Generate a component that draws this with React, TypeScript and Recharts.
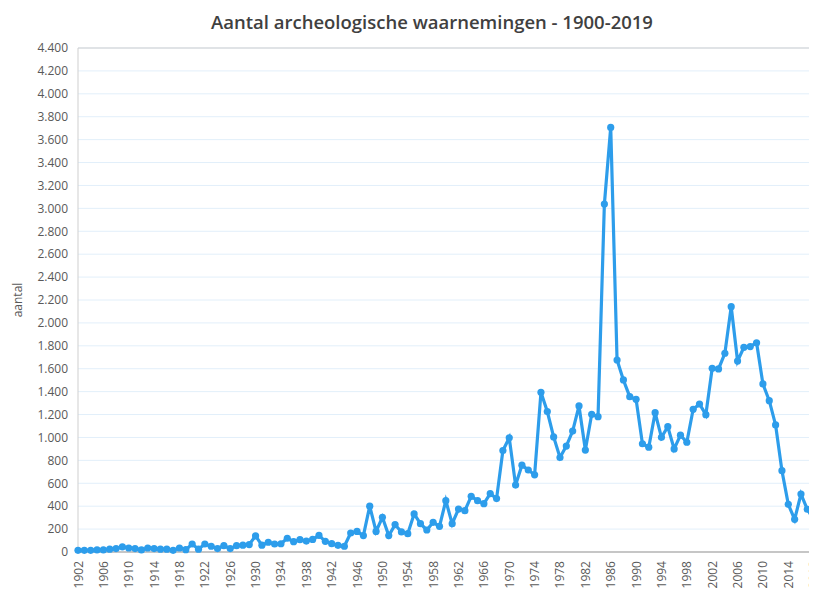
import React from 'react';
import { LineChart, Line, XAxis, YAxis, CartesianGrid, ReferenceLine } from 'recharts';

const startYear = 1902;
const counts: number[] = [
  15, 15, 15, 18, 18, 25, 30, 45, 35, 30, // 1902-1911
  18, 35, 30, 25, 25, 15, 35, 20, 70, 25, // 1912-1921
  70, 50, 30, 55, 30, 55, 60, 65, 140, 60, // 1922-1931
  85, 70, 72, 120, 90, 108, 95, 110, 145, 93, // 1932-1941
  73, 58, 50, 166, 180, 143, 400, 180, 303, 143, // 1942-1951
  239, 175, 160, 332, 247, 192, 259, 224, 448, 247, // 1952-1961
  375, 361, 486, 448, 422, 509, 466, 886, 997, 584, // 1962-1971
  758, 716, 674, 1394, 1226, 1005, 825, 925, 1056, 1275, // 1972-1981
  890, 1202, 1181, 3038, 3707, 1676, 1502, 1356, 1333, 945, // 1982-1991
  915, 1216, 1001, 1094, 900, 1020, 958, 1246, 1292, 1199, // 1992-2001
  1604, 1598, 1735, 2142, 1667, 1787, 1793, 1827, 1467, 1321, // 2002-2011
  1109, 710, 416, 285, 506, 373, 285, 323, // 2012-2019
];
const years: string[] = counts.map((_, i) => String(startYear + i));
const yTicks: number[] = [0, 200, 400, 600, 800, 1000, 1200, 1400, 1600, 1800, 2000, 2200, 2400, 2600, 2800, 3000, 3200, 3400, 3600, 3800, 4000, 4200, 4400];

const data = years.map((y, i) => ({ year: y, aantal: counts[i] }));

const fmt = (v: number) => String(v).replace(/\B(?=(\d{3})+(?!\d))/g, '.');

const BLUE = '#2d9deb';

const XTick = (props: any) => {
  const { x, y, payload } = props;
  return (
    <text
      x={x}
      y={y}
      transform={`rotate(-90, ${x}, ${y})`}
      textAnchor="end"
      dominantBaseline="central"
      fontSize={12}
      fill="#595959"
      fontFamily="Open Sans, sans-serif"
    >
      {payload.value}
    </text>
  );
};

export default function App() {
  return (
    <div style={{ position: 'relative', width: 809, height: 589, overflow: 'hidden', background: '#fff' }}>
      <div
        style={{
          position: 'absolute',
          left: 0,
          top: 1,
          width: 848,
          textAlign: 'center',
          fontFamily: 'Open Sans, sans-serif',
          fontWeight: 600,
          fontSize: 18.5,
          color: '#404040',
          zIndex: 2,
        }}
      >
        Aantal archeologische waarnemingen - 1900-2019
      </div>
      <LineChart width={830} height={589} data={data} margin={{ top: 40, right: 18, bottom: 0, left: 0 }}>
        <CartesianGrid vertical={false} stroke="#e2effa" strokeWidth={1} />
        <ReferenceLine y={4400} stroke="#cfcfcf" strokeWidth={1} />
        <XAxis
          dataKey="year"
          interval={3}
          height={45}
          tickLine={false}
          axisLine={{ stroke: '#c6c6c6', strokeWidth: 2 }}
          tick={<XTick />}
          tickMargin={3}
        />
        <YAxis
          width={70}
          domain={[0, 4400]}
          ticks={yTicks}
          interval={0}
          tickFormatter={fmt}
          tickLine={false}
          tickMargin={4}
          axisLine={{ stroke: '#cfcfcf', strokeWidth: 1 }}
          tick={{ fontSize: 12, fill: '#595959', fontFamily: 'Open Sans, sans-serif' }}
          label={{
            value: 'aantal',
            angle: -90,
            position: 'insideLeft',
            offset: 10,
            style: { textAnchor: 'middle', fontSize: 12, fill: '#595959', fontFamily: 'Open Sans, sans-serif' },
          }}
        />
        <Line
          type="linear"
          dataKey="aantal"
          stroke={BLUE}
          strokeWidth={3.2}
          dot={{ r: 3.6, fill: BLUE, stroke: BLUE, strokeWidth: 0 }}
          activeDot={false}
          isAnimationActive={false}
        />
      </LineChart>
    </div>
  );
}
